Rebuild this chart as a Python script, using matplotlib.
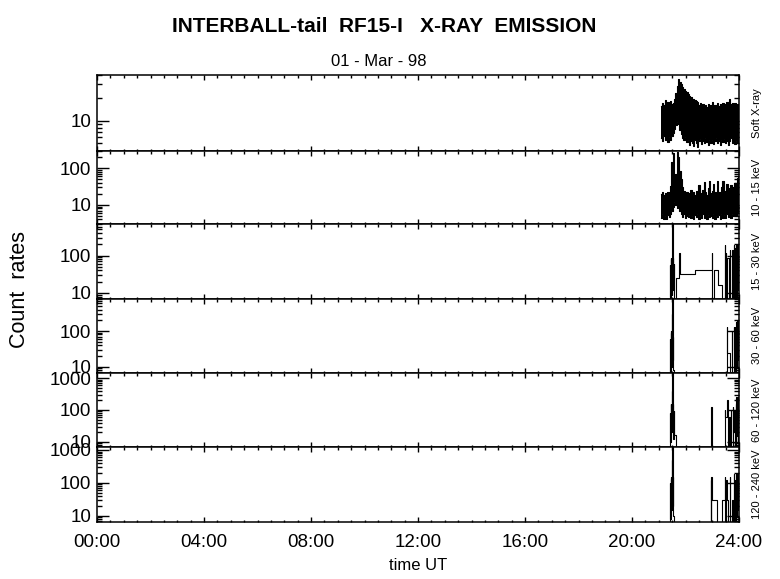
import matplotlib
matplotlib.use('Agg')
import matplotlib.pyplot as plt
from matplotlib.ticker import LogLocator, MultipleLocator, FuncFormatter, NullFormatter

plt.rcParams['font.family'] = ['Liberation Sans', 'DejaVu Sans']

# ---- data (hours UT, counts) ----
# the two low-energy channels are dense, kept as upper/lower envelope
t_env = [21.10, 21.15, 21.20, 21.25, 21.30, 21.35, 21.40, 21.45, 21.50, 21.55,
         21.60, 21.65, 21.70, 21.75, 21.80, 21.85, 21.90, 21.95, 22.00, 22.05,
         22.10, 22.15, 22.20, 22.25, 22.30, 22.35, 22.40, 22.45, 22.50, 22.55,
         22.60, 22.65, 22.70, 22.75, 22.80, 22.85, 22.90, 22.95, 23.00, 23.05,
         23.10, 23.15, 23.20, 23.25, 23.30, 23.35, 23.40, 23.45, 23.50, 23.55,
         23.60, 23.65, 23.70, 23.75, 23.80, 23.85, 23.90, 23.95, 24.00]

soft_hi = [15.5, 17.0, 16.0, 18.5, 16.5, 17.5, 16.0, 18.0, 16.8, 17.2,
           19.5, 23.0, 29.0, 35.0, 32.0, 30.5, 27.5, 26.0, 24.5, 23.5,
           22.5, 21.0, 20.5, 19.5, 19.0, 18.5, 18.0, 17.5, 16.0, 17.0,
           15.5, 16.5, 15.5, 16.2, 15.0, 16.8, 15.3, 16.0, 17.5, 15.5,
           16.3, 15.8, 17.0, 15.4, 16.6, 15.7, 16.9, 15.2, 16.5, 17.8,
           16.0, 19.0, 16.4, 17.2, 15.6, 16.9, 15.8, 16.5, 16.0]
soft_lo = [5.8, 5.4, 6.2, 5.6, 5.9, 5.2, 6.0, 5.5, 6.3, 6.8,
           7.8, 8.8, 9.6, 9.0, 7.4, 6.6, 5.9, 5.5, 6.0, 5.2,
           5.6, 4.8, 5.4, 5.0, 4.6, 5.5, 5.1, 4.5, 5.3, 5.7,
           4.9, 5.4, 5.0, 5.8, 5.2, 4.7, 5.5, 5.1, 5.6, 4.9,
           5.3, 5.9, 5.0, 5.4, 4.8, 5.5, 5.2, 5.7, 5.0, 5.4,
           4.7, 5.3, 5.8, 5.1, 5.5, 4.9, 5.4, 5.0, 5.6]

k10_hi = [20, 22, 18, 21, 19, 23, 20, 32, 150, 260,
          45, 70, 280, 200, 85, 50, 30, 24, 20, 22,
          18, 21, 26, 19, 22, 18, 24, 20, 35, 21,
          19, 25, 42, 22, 19, 28, 45, 21, 24, 38,
          22, 20, 44, 23, 21, 30, 46, 24, 22, 36,
          25, 28, 34, 24, 30, 40, 35, 55, 62]
k10_lo = [4.5, 5.5, 4.2, 5.0, 4.0, 5.2, 4.6, 5.8, 7.0, 9.0,
          12.0, 10.0, 8.0, 9.5, 7.0, 5.5, 4.8, 5.6, 4.3, 5.1,
          4.7, 5.4, 4.4, 5.0, 4.1, 5.3, 4.6, 5.5, 4.2, 5.0,
          4.5, 5.7, 4.3, 5.2, 4.0, 5.4, 4.6, 5.1, 4.4, 5.6,
          4.2, 5.0, 4.7, 5.3, 4.1, 5.5, 4.5, 5.2, 4.3, 5.8,
          4.6, 5.1, 4.4, 5.7, 4.9, 5.4, 5.0, 6.0, 6.5]

# higher channels: sparse counts, drawn as steps (1 = below the plotted range)
t_k15 = [21.00, 21.42, 21.43, 21.44, 21.45, 21.46, 21.47, 21.48, 21.49, 21.50,
         21.51, 21.52, 21.53, 21.54, 21.55, 21.56, 21.58, 21.63, 21.74, 21.78,
         22.36, 22.98, 22.99, 23.05, 23.10, 23.23, 23.35, 23.48, 23.49, 23.52,
         23.53, 23.56, 23.64, 23.66, 23.67, 23.72, 23.75, 23.76, 23.80, 23.82,
         23.84, 23.86, 23.88, 23.90, 23.91, 23.92, 23.93, 23.94, 23.95, 23.96,
         23.97, 23.98, 23.99, 24.00]
c_k15 = [1, 55, 8, 80, 12, 85, 30, 75, 9, 90,
         700, 70, 20, 85, 12, 60, 1, 25, 115, 33,
         41, 115, 1, 41, 41, 16, 1, 190, 1, 115,
         1, 84, 1, 140, 1, 20, 140, 1, 190, 10,
         160, 1, 190, 20, 200, 8, 150, 30, 190, 12,
         180, 40, 190, 1]

t_k30 = [21.00, 21.42, 21.43, 21.44, 21.45, 21.46, 21.47, 21.48, 21.49, 21.50,
         21.51, 21.52, 21.53, 21.54, 21.55, 21.56, 23.56, 23.57, 23.66, 23.72,
         23.73, 23.80, 23.81, 23.85, 23.86, 23.88, 23.89, 23.90, 23.91, 23.92,
         23.93, 23.94, 23.95, 23.96, 23.97, 23.98, 23.99, 24.00]
c_k30 = [1, 60, 5, 90, 20, 100, 10, 80, 300, 90,
         800, 90, 15, 70, 8, 1, 130, 24, 1, 100,
         1, 130, 30, 130, 1, 50, 1, 180, 20, 200,
         10, 150, 40, 200, 15, 170, 60, 1]

t_k60 = [21.00, 21.42, 21.43, 21.44, 21.45, 21.46, 21.47, 21.48, 21.49, 21.50,
         21.51, 21.52, 21.53, 21.54, 21.55, 21.56, 21.57, 21.64, 22.97, 22.98,
         23.48, 23.49, 23.57, 23.58, 23.62, 23.66, 23.70, 23.71, 23.78, 23.79,
         23.83, 23.84, 23.87, 23.88, 23.90, 23.91, 23.92, 23.93, 23.94, 23.95,
         23.96, 23.97, 23.98, 23.99, 24.00]
c_k60 = [1, 80, 10, 150, 30, 160, 20, 120, 400, 150,
         1470, 150, 40, 160, 12, 90, 16, 1, 127, 1,
         100, 61, 207, 1, 61, 1, 100, 1, 120, 20,
         100, 1, 150, 1, 260, 30, 200, 15, 240, 60,
         180, 10, 250, 80, 1]

t_k120 = [21.00, 21.42, 21.43, 21.44, 21.45, 21.46, 21.47, 21.48, 21.49, 21.50,
          21.51, 21.52, 21.53, 21.54, 21.55, 21.56, 22.95, 22.96, 22.97, 22.98,
          23.16, 23.35, 23.48, 23.49, 23.53, 23.54, 23.58, 23.66, 23.67, 23.75,
          23.78, 23.82, 23.83, 23.86, 23.87, 23.90, 23.91, 23.92, 23.93, 23.94,
          23.95, 23.96, 23.97, 23.98, 23.99, 24.00]
c_k120 = [1, 100, 8, 150, 40, 130, 15, 150, 500, 140,
          1234, 140, 20, 150, 10, 1, 121, 1, 152, 30,
          1, 30, 152, 1, 120, 30, 1, 150, 1, 30,
          1, 190, 1, 120, 1, 190, 20, 160, 10, 190,
          50, 170, 15, 190, 60, 1]

channel_names = ['Soft X-ray', '10 - 15 keV', '15 - 30 keV',
                 '30 - 60 keV', '60 - 120 keV', '120 - 240 keV']
y_limits = [(4, 40), (3, 300), (7, 700), (6.67, 803), (6.8, 1470), (6.57, 1234)]
step_series = [None, None, (t_k15, c_k15), (t_k30, c_k30),
               (t_k60, c_k60), (t_k120, c_k120)]

# ---- layout (pixel edges of the six stacked panels) ----
W, H = 780, 579
fig = plt.figure(figsize=(W / 100, H / 100), dpi=100)
edges = [75, 150.7, 224, 298.7, 373, 447, 521.7]
x0, x1 = 97, 739

axes = []
for i in range(6):
    ax = fig.add_axes([x0 / W, 1 - edges[i + 1] / H,
                       (x1 - x0) / W, (edges[i + 1] - edges[i]) / H])
    axes.append(ax)

for i, ax in enumerate(axes):
    if i == 0:
        ax.fill_between(t_env, soft_lo, soft_hi, step='mid', color='k', lw=0)
        ax.step(t_env, soft_hi, where='mid', color='k', lw=0.8)
        ax.step(t_env, soft_lo, where='mid', color='k', lw=0.8)
    elif i == 1:
        ax.fill_between(t_env, k10_lo, k10_hi, step='mid', color='k', lw=0)
        ax.step(t_env, k10_hi, where='mid', color='k', lw=0.8)
        ax.step(t_env, k10_lo, where='mid', color='k', lw=0.8)
    else:
        tt, cc = step_series[i]
        ax.step(tt, cc, where='post', color='k', lw=0.8)

    ax.set_yscale('log')
    ax.set_ylim(*y_limits[i])
    ax.set_xlim(0, 24)
    ax.yaxis.set_major_locator(LogLocator(base=10))
    ax.yaxis.set_minor_locator(LogLocator(base=10, subs=range(2, 10)))
    ax.yaxis.set_major_formatter(FuncFormatter(lambda v, p: '%d' % round(v)))
    ax.yaxis.set_minor_formatter(NullFormatter())
    ax.xaxis.set_major_locator(MultipleLocator(4))
    ax.xaxis.set_minor_locator(MultipleLocator(0.5))
    ax.tick_params(which='both', direction='in', top=True, right=True,
                   width=1.0, labelsize=13.5, pad=4)
    ax.tick_params(axis='y', which='major', length=8.5)
    ax.tick_params(axis='y', which='minor', length=3.3)
    ax.tick_params(axis='x', which='major', length=3.5)
    ax.tick_params(axis='x', which='minor', length=1.8)
    for s in ax.spines.values():
        s.set_linewidth(1.1)
    if i < 5:
        ax.set_xticklabels([])
    else:
        ax.xaxis.set_major_formatter(FuncFormatter(lambda v, p: '%02d:00' % round(v)))
        ax.tick_params(axis='x', pad=9)

    yc = (edges[i] + edges[i + 1]) / 2
    fig.text(757 / W, 1 - yc / H, channel_names[i], rotation=90,
             ha='center', va='center', fontsize=8)

fig.text(384 / W, 1 - 27 / H, 'INTERBALL-tail  RF15-I   X-RAY  EMISSION',
         ha='center', va='center', fontsize=15, fontweight='bold')
fig.text(379 / W, 1 - 62 / H, '01 - Mar - 98', ha='center', va='center', fontsize=12)
fig.text(20 / W, 1 - 290 / H, 'Count  rates', rotation=90,
         ha='center', va='center', fontsize=15.5)
fig.text(418 / W, 1 - 566 / H, 'time UT', ha='center', va='center', fontsize=12)

fig.savefig('out.png', dpi=100)
